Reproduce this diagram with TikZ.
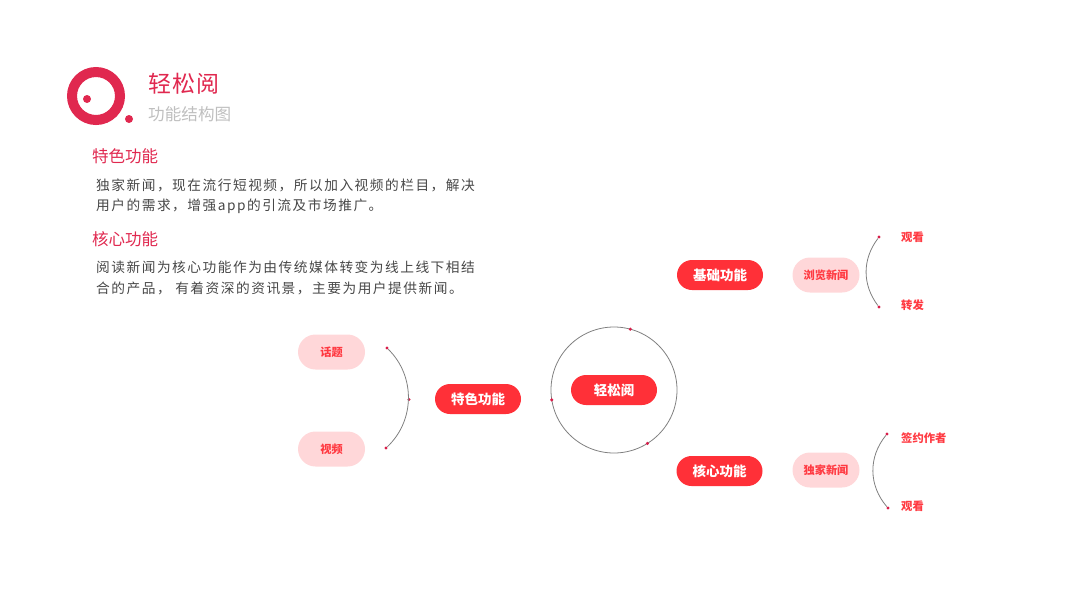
\documentclass[tikz,border=0pt]{standalone}
\usepackage{fontspec}
\usepackage{tikz}
\usetikzlibrary{positioning}
\setmainfont{Noto Sans CJK SC}
\newfontfamily\bodyfont[LetterSpace=11]{Noto Sans CJK SC}
\newfontfamily\titlefont[LetterSpace=4]{Noto Sans CJK SC}
\definecolor{logored}{HTML}{E0284F}
\definecolor{pillred}{HTML}{FF3038}
\definecolor{pillpink}{HTML}{FFD7D9}
\definecolor{dotred}{HTML}{D81E4A}
\definecolor{leafred}{HTML}{FF3A42}
\tikzset{
  mainpill/.style={fill=pillred,text=white,rounded corners=15pt,minimum width=86pt,minimum height=30pt,inner sep=0pt,font=\fontsize{13.5}{14}\selectfont\bfseries},
  softpill/.style={fill=pillpink,text=leafred,rounded corners=17.5pt,minimum width=67pt,minimum height=35pt,inner sep=0pt,font=\fontsize{11.2}{12}\selectfont\bfseries},
  leaflabel/.style={text=leafred,anchor=west,inner sep=0pt,font=\fontsize{11.3}{12}\selectfont\bfseries},
  headlabel/.style={text=logored,anchor=west,inner sep=0pt,font=\fontsize{16.5}{18}\selectfont},
  bodyline/.style={text=black!72,anchor=west,inner sep=0pt,font=\fontsize{13.7}{15}\bodyfont},
  dotmark/.style={circle,fill=dotred,inner sep=0pt,minimum size=3.4pt},
  thinline/.style={draw=black!50,line width=0.8pt}
}
\begin{document}
\begin{tikzpicture}[x=1pt,y=1pt]
  \useasboundingbox (0,0) rectangle (1067,-600);
  % logo and title
  \draw[logored,line width=10pt] (96,-96) circle (24);
  \fill[logored] (87,-99) circle (4);
  \fill[logored] (129,-119) circle (4);
  \node[anchor=west,inner sep=0pt,text=logored,font=\fontsize{23}{24}\titlefont] (title) at (148,-84) {轻松阅};
  \node[anchor=west,inner sep=0pt,text=black!25,font=\fontsize{16.6}{18}\selectfont] (subtitle) at (148,-114) {功能结构图};
  % text block
  \node[headlabel] (headfeat) at (92,-156) {特色功能};
  \node[bodyline] (feata) at (96,-185.5) {独家新闻，现在流行短视频，所以加入视频的栏目，解决};
  \node[bodyline] (featb) at (96,-206.5) {用户的需求，增强app的引流及市场推广。};
  \node[headlabel] (headcore) at (92,-239) {核心功能};
  \node[bodyline] (corea) at (96,-267.5) {阅读新闻为核心功能作为由传统媒体转变为线上线下相结};
  \node[bodyline] (coreb) at (96,-288.5) {合的产品， 有着资深的资讯景，主要为用户提供新闻。};
  % hub
  \node[circle,thinline,minimum size=126pt,inner sep=0pt,outer sep=0pt] (hub) at (614,-390) {};
  \node[mainpill] (root) at (hub.center) {轻松阅};
  \node[dotmark] (huba) at (hub.75) {};
  \node[dotmark] (hubb) at (hub.189) {};
  \node[dotmark] (hubc) at (hub.-58) {};
  % left branch
  \node[mainpill] (feat) at (478,-399) {特色功能};
  \node[softpill] (topic) at (331.5,-352) {话题};
  \node[softpill] (video) at (331.5,-449) {视频};
  \node[dotmark] (arcla) at (387,-348) {};
  \node[dotmark] (arclb) at (409,-399.5) {};
  \node[dotmark] (arclc) at (386,-448) {};
  \draw[thinline] (arcla) to[bend left=46] (arclc);
  % upper right branch
  \node[mainpill] (base) at (720,-275) {基础功能};
  \node[dotmark,right=56pt of base] (basedot) {};
  \node[softpill] (browse) at (826,-275) {浏览新闻};
  \node[dotmark] (arcua) at (879,-237) {};
  \node[dotmark] (arcub) at (879,-307) {};
  \draw[thinline] (arcua) to[bend right=37] (arcub);
  \node[leaflabel] (watcha) at (901,-237.5) {观看};
  \node[leaflabel] (share) at (901,-305) {转发};
  % lower right branch
  \node[mainpill] (core) at (719.5,-471) {核心功能};
  \node[dotmark,right=56.5pt of core] (coredot) {};
  \node[softpill] (only) at (826,-470) {独家新闻};
  \node[dotmark] (arcda) at (887,-434) {};
  \node[dotmark] (arcdb) at (888,-508) {};
  \draw[thinline] (arcda) to[bend right=40] (arcdb);
  \node[leaflabel] (sign) at (901,-438) {签约作者};
  \node[leaflabel] (watchb) at (901,-506) {观看};
\end{tikzpicture}
\end{document}
